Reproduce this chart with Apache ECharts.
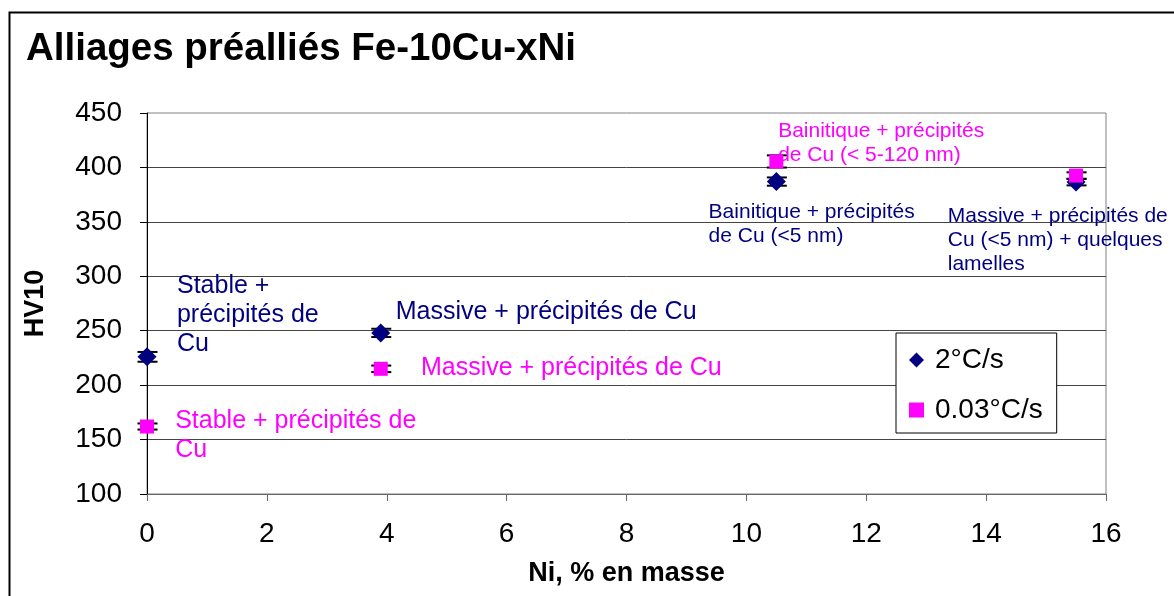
<!DOCTYPE html>
<html>
<head>
<meta charset="utf-8">
<script src="https://cdn.jsdelivr.net/npm/echarts@6/dist/echarts.min.js"></script>
<style>
html,body{margin:0;padding:0;background:#fff;}
#chart{width:1174px;height:596px;}
</style>
</head>
<body>
<div id="chart"></div>
<script>
// ---- data ----
const niValues = [0, 3.9, 10.5, 15.5];
const hv2 = [226, 248, 387, 386.5];
const hv003 = [162, 215, 405.5, 392.5];
const err2 = [4.5, 3.8, 3.8, 3];
const err003 = [2.8, 3, 5.6, 3];
const seriesNames = ['2°C/s', '0.03°C/s'];

// annotations (top-left anchor in data coordinates)
const annotTexts = [
  'Stable +\nprécipités de\nCu',
  'Massive + précipités de Cu',
  'Massive + précipités de Cu',
  'Stable + précipités de\nCu',
  'Bainitique + précipités\nde Cu (<5 nm)',
  'Massive + précipités de\nCu (<5 nm) + quelques\nlamelles',
  'Bainitique + précipités\nde Cu (< 5-120 nm)'
];
const annotX = [0.50, 4.15, 4.57, 0.47, 9.37, 13.36, 10.53];
const annotY = [304.4, 280.5, 229.1, 180.4, 369.6, 366.4, 444.5];
const annotGroup = [0, 0, 1, 1, 0, 0, 1];
const annotBig = [1, 1, 1, 1, 0, 0, 0];

const FONT = '"Liberation Sans", Arial, sans-serif';
const colors = ['#000080', '#FF00FF'];

function errData(xs, ys, es) {
  return xs.map((x, i) => [x, ys[i], es[i]]);
}

function renderErr(params, api) {
  const x = api.value(0), y = api.value(1), e = api.value(2);
  const top = api.coord([x, y + e]);
  const bot = api.coord([x, y - e]);
  const half = 10;
  const cx = top[0] + 0.5;
  const style = {stroke: '#000', lineWidth: 2};
  return {
    type: 'group',
    children: [
      {type: 'line', shape: {x1: top[0], y1: top[1], x2: bot[0], y2: bot[1]}, style: style},
      {type: 'line', shape: {x1: cx - half, y1: top[1], x2: cx + half, y2: top[1]}, style: style},
      {type: 'line', shape: {x1: cx - half, y1: bot[1], x2: cx + half, y2: bot[1]}, style: style}
    ]
  };
}

function renderAnnot(params, api) {
  const i = params.dataIndex;
  const p = api.coord([api.value(0), api.value(1)]);
  const big = annotBig[i] === 1;
  return {
    type: 'text',
    x: p[0], y: p[1],
    style: {
      text: annotTexts[i],
      fill: colors[annotGroup[i]],
      fontFamily: FONT,
      fontSize: big ? 25 : 21,
      lineHeight: big ? 29 : 24,
      align: 'left',
      verticalAlign: 'top'
    }
  };
}

const chart = echarts.init(document.getElementById('chart'), null, {renderer: 'canvas'});
const option = {
  animation: false,
  backgroundColor: '#fff',
  textStyle: {fontFamily: FONT},
  title: {
    text: 'Alliages préalliés Fe-10Cu-xNi',
    left: 26, top: 26, padding: 0,
    textStyle: {fontFamily: FONT, fontSize: 38.5, fontWeight: 'bold', color: '#000', lineHeight: 46}
  },
  graphic: [{
    type: 'rect', x: 9.5, y: 12.5, z: -10,
    shape: {x: 0, y: 0, width: 1300, height: 700},
    style: {fill: 'none', stroke: '#000', lineWidth: 2}
  }],
  legend: {
    data: seriesNames,
    orient: 'vertical',
    left: 896, top: 333,
    padding: [12, 14, 8, 13],
    itemWidth: 15, itemHeight: 15, itemGap: 20,
    backgroundColor: '#fff',
    borderColor: '#000', borderWidth: 1,
    textStyle: {fontFamily: FONT, fontSize: 28, color: '#000', lineHeight: 30, padding: [0, 0, 0, 6]}
  },
  grid: {
    left: 147, top: 113, right: 68, bottom: 102,
    show: true, borderColor: '#808080', borderWidth: 1, backgroundColor: 'transparent'
  },
  xAxis: {
    type: 'value', min: 0, max: 16, interval: 2,
    name: 'Ni, % en masse', nameLocation: 'middle', nameGap: 66,
    nameTextStyle: {fontFamily: FONT, fontSize: 27, fontWeight: 'bold', color: '#000'},
    axisLine: {show: true, onZero: false, lineStyle: {color: '#666', width: 1}},
    axisTick: {show: true, inside: false, length: 7, lineStyle: {color: '#666'}},
    axisLabel: {fontFamily: FONT, fontSize: 28, color: '#000', margin: 26},
    splitLine: {show: false}
  },
  yAxis: {
    type: 'value', min: 100, max: 450, interval: 50,
    name: 'HV10', nameLocation: 'middle', nameGap: 98,
    nameTextStyle: {fontFamily: FONT, fontSize: 27, fontWeight: 'bold', color: '#000'},
    axisLine: {show: true, onZero: false, lineStyle: {color: '#000', width: 1}},
    axisTick: {show: true, inside: false, length: 7, lineStyle: {color: '#000'}},
    axisLabel: {fontFamily: FONT, fontSize: 28, color: '#000', margin: 25},
    splitLine: {show: true, showMinLine: false, showMaxLine: false, lineStyle: {color: '#444', width: 1}}
  },
  series: [
    {
      type: 'custom', name: 'err2', renderItem: renderErr, z: 1,
      data: errData(niValues, hv2, err2), silent: true
    },
    {
      type: 'custom', name: 'err003', renderItem: renderErr, z: 1,
      data: errData(niValues, hv003, err003), silent: true
    },
    {
      type: 'scatter', name: seriesNames[0], symbol: 'diamond', symbolSize: 19, z: 3,
      itemStyle: {color: colors[0], opacity: 1},
      data: niValues.map((x, i) => [x, hv2[i]])
    },
    {
      type: 'scatter', name: seriesNames[1], symbol: 'rect', symbolSize: 14, z: 4,
      itemStyle: {color: colors[1], opacity: 1},
      data: niValues.map((x, i) => [x, hv003[i]])
    },
    {
      type: 'custom', name: 'annotations', renderItem: renderAnnot, z: 5, silent: true,
      data: annotX.map((x, i) => [x, annotY[i]])
    }
  ]
};
chart.setOption(option);
</script>
</body>
</html>
